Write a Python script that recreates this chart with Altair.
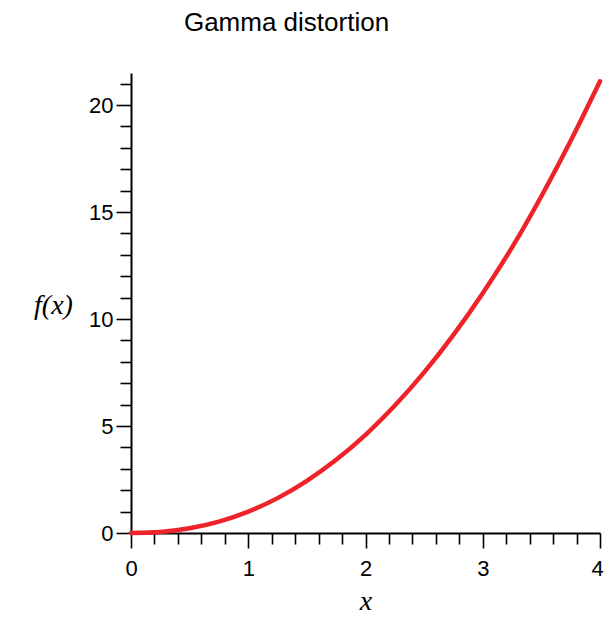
import altair as alt
import pandas as pd

# values
x_vals = [0, 0.25, 0.5, 0.75, 1.0, 1.25, 1.5, 1.75, 2.0, 2.25, 2.5, 2.75, 3.0, 3.25, 3.5, 3.75, 4.0]
f_vals = [0, 0.05, 0.22, 0.53, 1.0, 1.63, 2.44, 3.42, 4.59, 5.96, 7.51, 9.26, 11.21, 13.35, 15.74, 18.33, 21.11]

x_ticks = [0, 0.2, 0.4, 0.6, 0.8, 1.0, 1.2, 1.4, 1.6, 1.8, 2.0, 2.2, 2.4, 2.6, 2.8,
           3.0, 3.2, 3.4, 3.6, 3.8, 4.0]
y_ticks = [0, 1, 2, 3, 4, 5, 6, 7, 8, 9, 10, 11, 12, 13, 14, 15, 16, 17, 18, 19, 20, 21]
x_domain = [0, 4]
y_domain = [0, 21.5]
title_text = ["Gamma distortion"]

df = pd.DataFrame({"x": x_vals, "f": f_vals})
title_df = pd.DataFrame({"t": title_text})

common_axis = dict(
    grid=False,
    domainColor="black",
    domainWidth=2,
    tickColor="black",
    tickWidth=1.6,
    labelFont="Liberation Sans",
    labelFontSize=22,
    labelColor="black",
    labelOverlap=False,
    labelFlush=False,
    titleFont="Liberation Serif",
    titleFontStyle="italic",
    titleFontWeight="normal",
    titleFontSize=28,
    titleColor="black",
    titleAngle=0,
    titleAlign="center",
    titleBaseline="alphabetic",
)

line = alt.Chart(df).mark_line(
    color="#EE2229", strokeWidth=4.5, strokeCap="round", interpolate="monotone"
).encode(
    x=alt.X(
        "x:Q",
        scale=alt.Scale(domain=x_domain, nice=False, zero=False),
        axis=alt.Axis(
            values=x_ticks,
            title="x",
            format=".0f",
            labelExpr="datum.value % 1 === 0 ? datum.label : ''",
            labelOffset={"condition": {"test": "datum.value === 4", "value": -3}, "value": 0},
            tickSize={"condition": {"test": "datum.value % 1 === 0", "value": 15}, "value": 11},
            labelPadding=10,
            titleX=234.5,
            titleY=76,
            **common_axis,
        ),
    ),
    y=alt.Y(
        "f:Q",
        scale=alt.Scale(domain=y_domain, nice=False),
        axis=alt.Axis(
            values=y_ticks,
            title="f(x)",
            format=".0f",
            labelExpr="datum.value % 5 === 0 ? datum.label : ''",
            tickSize={"condition": {"test": "datum.value % 5 === 0", "value": 15}, "value": 11},
            labelPadding=3,
            titleX=-78,
            titleY=240,
            **common_axis,
        ),
    ),
)

title = alt.Chart(title_df).mark_text(
    font="Liberation Sans",
    fontSize=26,
    color="black",
    align="center",
    baseline="alphabetic",
).encode(
    text="t:N",
    x=alt.value(155.5),
    y=alt.value(-42),
)

chart = alt.layer(line, title).properties(
    width=469,
    height=460,
    padding={"left": 123, "top": 65, "right": 4, "bottom": 83},
    autosize=alt.AutoSizeParams(type="none"),
).configure_view(stroke=None)

chart.save("out.html", embed_options={"renderer": "svg", "actions": False})
